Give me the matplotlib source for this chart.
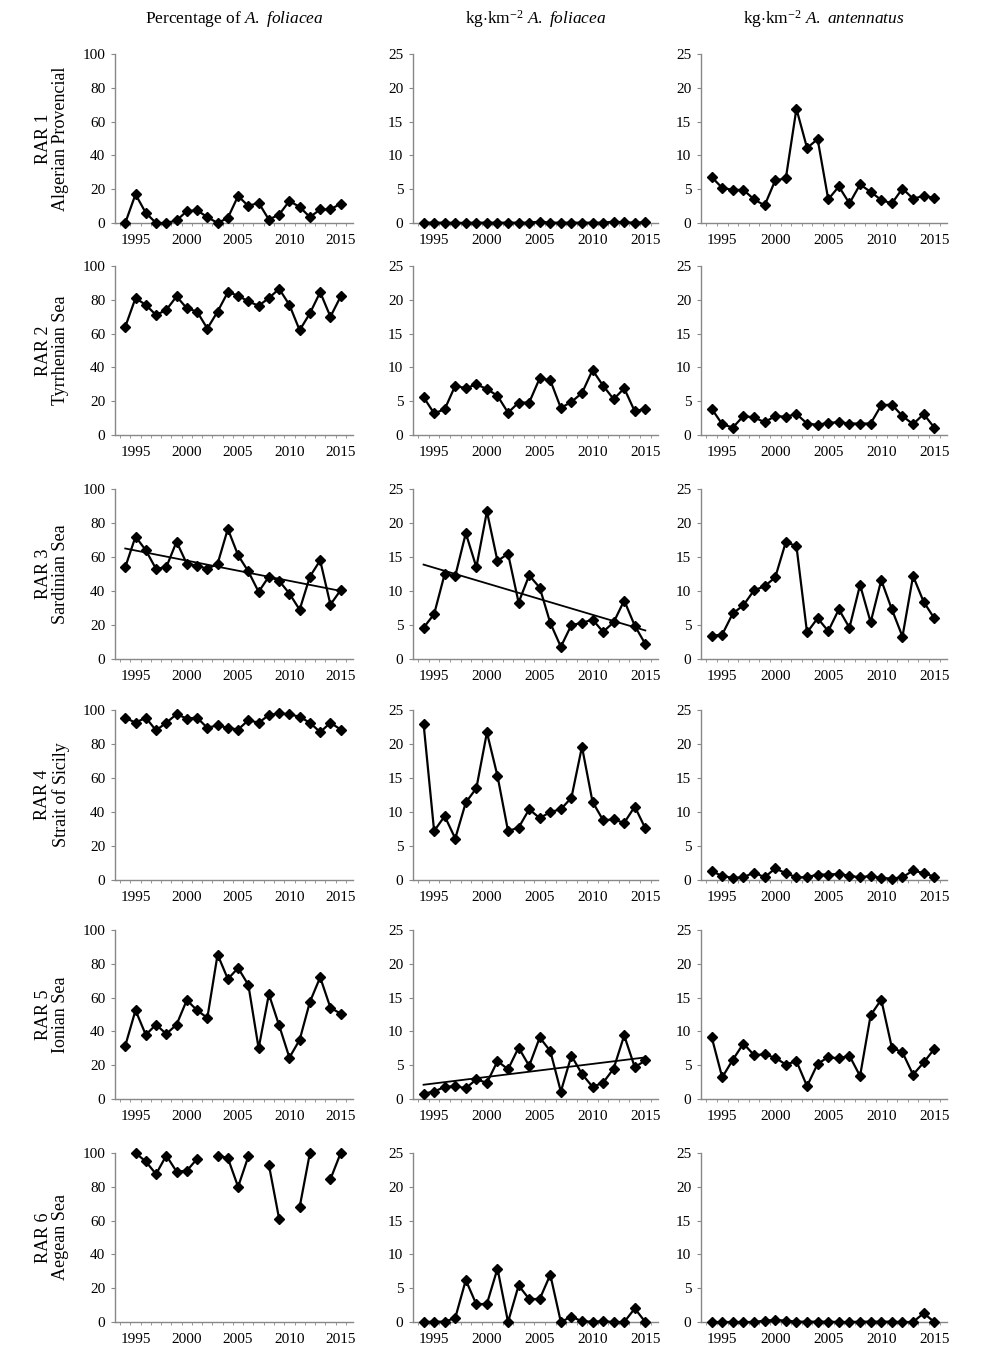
import matplotlib
matplotlib.use("Agg")
import matplotlib.pyplot as plt
import numpy as np

plt.rcParams['font.family'] = ['Liberation Serif', 'DejaVu Serif']
plt.rcParams['mathtext.fontset'] = 'custom'
plt.rcParams['mathtext.rm'] = 'Liberation Serif'
plt.rcParams['mathtext.it'] = 'Liberation Serif:italic'

years = list(range(1994, 2016))
nan = np.nan

col_titles = [r"Percentage of $\it{A.}$ $\it{foliacea}$",
              r"kg$\cdot$km$^{-2}$ $\it{A.}$ $\it{foliacea}$",
              r"kg$\cdot$km$^{-2}$ $\it{A.}$ $\it{antennatus}$"]
row_labels = ["RAR 1\nAlgerian Provencial", "RAR 2\nTyrrhenian Sea", "RAR 3\nSardinian Sea",
              "RAR 4\nStrait of Sicily", "RAR 5\nIonian Sea", "RAR 6\nAegean Sea"]

# percentage of A. foliacea
pct_rar1 = [0, 17, 6, 0, 0, 1.5, 7, 7.5, 3.5, 0, 3, 16, 10, 12, 2, 5, 13, 9.5, 3.5, 8, 8, 11.5]
pct_rar2 = [64, 81, 77, 71, 74, 82, 75, 73, 63, 73, 84.5, 82.5, 79, 76.5, 81, 86.5, 77, 62, 72, 84.5, 70, 82]
pct_rar3 = [54, 72, 64, 53, 54, 69, 56, 55, 53, 56, 76.5, 61, 51.5, 39.5, 48.5, 46, 38.5, 29, 48.5, 58, 32, 40.5]
pct_rar4 = [95.5, 92.5, 95.5, 88, 92.5, 97.5, 95, 95.5, 89.5, 91, 89.5, 88.5, 94, 92.5, 97, 98, 97.5, 96, 92.5, 87, 92.5, 88.5]
pct_rar5 = [31.5, 52.5, 38, 44, 38.5, 44, 58.5, 52.5, 48, 85.5, 71, 77.5, 67.5, 30, 62, 43.5, 24.5, 35, 57.5, 72, 54, 50.5]
pct_rar6 = [nan, 100, 95, 87.5, 98.5, 89, 89.5, 96.5, nan, 98.5, 97, 80, 98, nan, 93, 61, nan, 68, 100, nan, 84.5, 100]

# kg/km2 A. foliacea
fol_rar1 = [0.05, 0.05, 0.05, 0.02, 0.02, 0.05, 0.05, 0.05, 0.05, 0.05, 0.05, 0.2, 0.05, 0.05, 0.05, 0.05, 0.05, 0.05, 0.2, 0.1, 0.05, 0.1]
fol_rar2 = [5.6, 3.2, 3.8, 7.3, 6.9, 7.5, 6.8, 5.8, 3.3, 4.8, 4.8, 8.4, 8.1, 4.0, 4.9, 6.2, 9.6, 7.3, 5.3, 6.9, 3.5, 3.9]
fol_rar3 = [4.6, 6.6, 12.5, 12.2, 18.5, 13.5, 21.7, 14.4, 15.5, 8.3, 12.3, 10.5, 5.3, 1.8, 5.0, 5.3, 5.8, 4.0, 5.4, 8.6, 4.9, 2.2]
fol_rar4 = [23.0, 7.2, 9.4, 6.1, 11.4, 13.5, 21.7, 15.3, 7.2, 7.7, 10.4, 9.1, 10.0, 10.4, 12.1, 19.6, 11.5, 8.8, 8.9, 8.4, 10.8, 7.6]
fol_rar5 = [0.8, 1.1, 1.8, 1.9, 1.6, 2.9, 2.4, 5.6, 4.4, 7.6, 4.9, 9.1, 7.1, 1.1, 6.4, 3.7, 1.8, 2.4, 4.5, 9.4, 4.7, 5.7]
fol_rar6 = [0, 0.05, 0.05, 0.6, 6.2, 2.6, 2.7, 7.9, 0, 5.4, 3.4, 3.4, 7.0, 0, 0.8, 0.1, 0.05, 0.1, 0, 0, 2.0, 0]

# kg/km2 A. antennatus
ant_rar1 = [6.8, 5.2, 4.9, 4.9, 3.5, 2.6, 6.3, 6.6, 16.9, 11.1, 12.4, 3.5, 5.4, 2.9, 5.7, 4.6, 3.4, 2.9, 5.1, 3.6, 4.0, 3.7]
ant_rar2 = [3.9, 1.6, 1.1, 2.8, 2.6, 1.9, 2.8, 2.7, 3.1, 1.7, 1.5, 1.8, 1.9, 1.7, 1.7, 1.7, 4.4, 4.5, 2.8, 1.6, 3.1, 1.1]
ant_rar3 = [3.4, 3.6, 6.7, 7.9, 10.1, 10.7, 12.0, 17.2, 16.6, 3.9, 6.0, 4.1, 7.3, 4.6, 10.9, 5.4, 11.6, 7.3, 3.3, 12.2, 8.4, 6.0]
ant_rar4 = [1.3, 0.6, 0.3, 0.4, 1.1, 0.4, 1.7, 1.0, 0.4, 0.4, 0.8, 0.8, 0.9, 0.6, 0.4, 0.6, 0.3, 0.2, 0.4, 1.4, 1.0, 0.5]
ant_rar5 = [9.2, 3.2, 5.8, 8.2, 6.5, 6.6, 6.1, 5.1, 5.6, 1.9, 5.2, 6.2, 6.0, 6.4, 3.4, 12.4, 14.7, 7.6, 6.9, 3.6, 5.4, 7.4]
ant_rar6 = [0, 0, 0, 0, 0, 0.2, 0.3, 0.2, 0.05, 0.05, 0.05, 0.05, 0, 0, 0.05, 0.05, 0.05, 0.05, 0, 0, 1.3, 0]

pct = [pct_rar1, pct_rar2, pct_rar3, pct_rar4, pct_rar5, pct_rar6]
fol = [fol_rar1, fol_rar2, fol_rar3, fol_rar4, fol_rar5, fol_rar6]
ant = [ant_rar1, ant_rar2, ant_rar3, ant_rar4, ant_rar5, ant_rar6]

# panels with a linear trend: (row, col)
trends = [(2, 0), (2, 1), (4, 1)]

W, H = 998, 1369
col_px = [(115, 353), (413, 658), (701, 947)]
row_px = [(54, 223), (266, 435), (489, 659), (710, 880), (930, 1099), (1153, 1322)]
ymax = [100, 25, 25]
yticks = [np.arange(0, 101, 20), np.arange(0, 26, 5), np.arange(0, 26, 5)]

fig = plt.figure(figsize=(W / 100, H / 100), dpi=100)

for r in range(6):
    series = [pct[r], fol[r], ant[r]]
    for c in range(3):
        x0, x1 = col_px[c]
        y0, y1 = row_px[r]
        ax = fig.add_axes([x0 / W, 1 - y1 / H, (x1 - x0) / W, (y1 - y0) / H])
        vals = np.array(series[c], dtype=float)
        ax.plot(years, vals, color='black', lw=1.6, marker='D', ms=5.5,
                markerfacecolor='black', markeredgecolor='black', zorder=3, clip_on=False)
        if (r, c) in trends:
            yr = np.array(years)
            k, b = np.polyfit(yr, vals, 1)
            ax.plot([yr[0], yr[-1]], [k * yr[0] + b, k * yr[-1] + b], color='black', lw=1.3, zorder=2)
        ax.set_xlim(1993, 2016.2)
        ax.set_ylim(0, ymax[c])
        ax.set_yticks(yticks[c])
        ax.set_xticks([1995, 2000, 2005, 2010, 2015])
        ax.set_xticks(np.arange(1993.5, 2016, 1), minor=True)
        for s in ['top', 'right']:
            ax.spines[s].set_visible(False)
        for s in ['left', 'bottom']:
            ax.spines[s].set_color('#888888')
            ax.spines[s].set_linewidth(1.0)
        ax.tick_params(axis='y', direction='out', length=3, color='#888888', labelsize=11, pad=4)
        ax.tick_params(axis='x', which='major', length=0, labelsize=11, pad=8)
        ax.tick_params(axis='x', which='minor', direction='out', length=2.5, color='#888888')
        if r == 0:
            ax.set_title(col_titles[c], fontsize=12.5, pad=22)
        if c == 0:
            fig.text(52 / W, 1 - (y0 + y1) / 2 / H, row_labels[r], rotation=90, fontsize=13,
                     ha='center', va='center', multialignment='center', linespacing=1.05)

fig.savefig("out.png", dpi=100)
